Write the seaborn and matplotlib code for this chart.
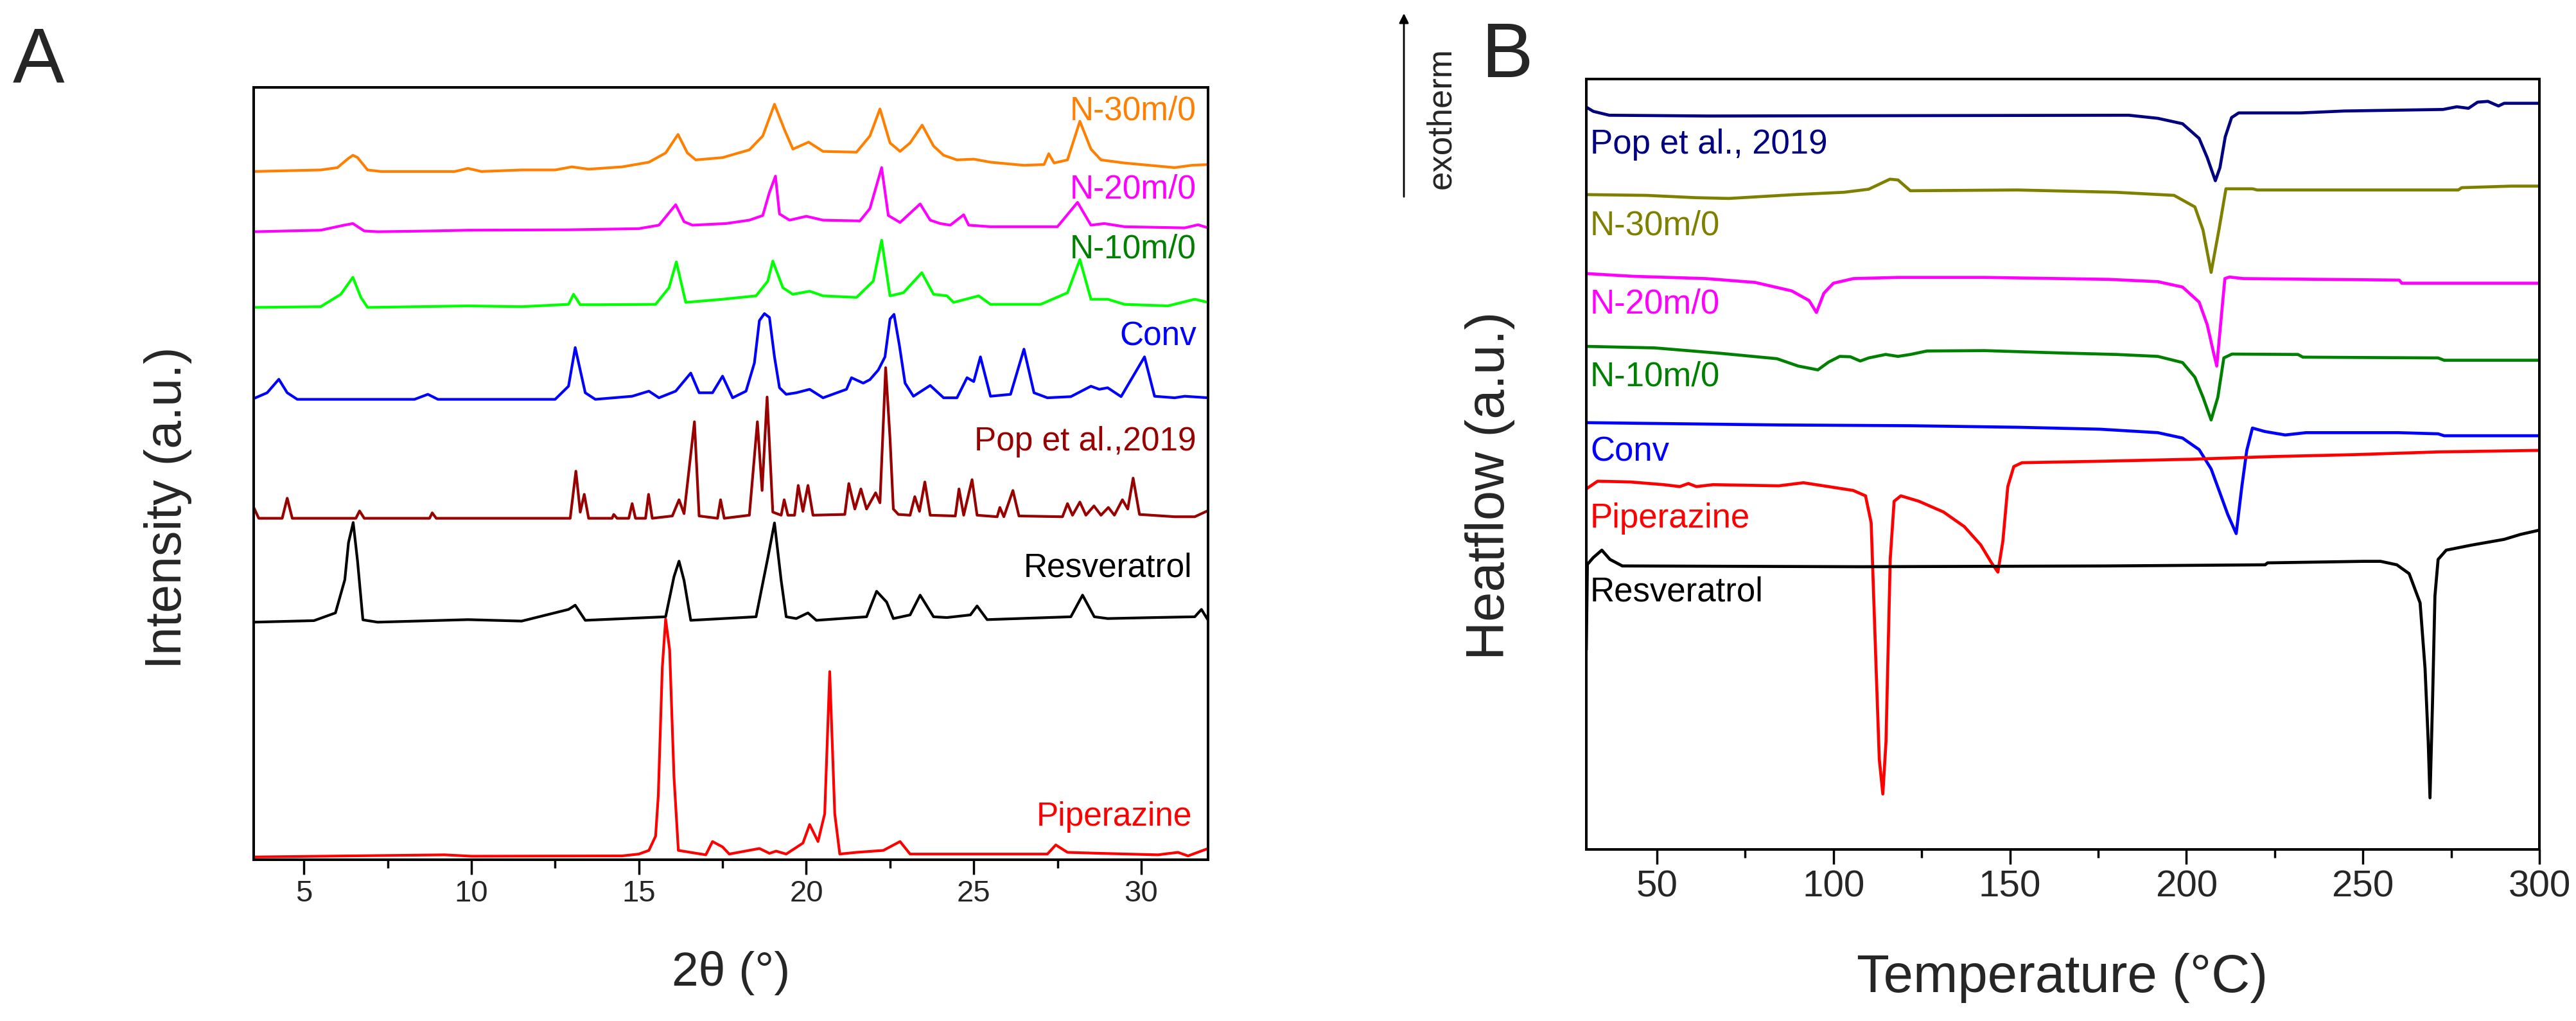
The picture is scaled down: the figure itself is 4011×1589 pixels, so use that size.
import matplotlib
matplotlib.use("Agg")
import matplotlib.pyplot as plt
from matplotlib.ticker import MultipleLocator
import pandas as pd
import seaborn as sns

# ---- panel A: XRD patterns, 2theta (deg) and height above each pattern's own baseline (a.u.)
N30_X = [3.5, 5.5, 6.0, 6.3, 6.46, 6.6, 6.9, 7.3, 9.5, 9.9, 10.3, 11.5, 12.5, 13.0, 13.5, 14.5, 15.3, 15.8,
         16.17, 16.45, 16.7, 17.5, 18.3, 18.7, 19.05, 19.35, 19.6, 20.07, 20.5, 21.5, 21.9, 22.2, 22.5, 22.8,
         23.1, 23.46, 23.8, 24.1, 24.5, 25.0, 25.5, 26.5, 27.1, 27.24, 27.4, 27.8, 28.17, 28.5, 28.8, 29.5,
         30.5, 31.0, 31.5, 32.0]
N30_H = [0, 0.2, 0.5, 1.6, 2.1, 1.8, 0.2, 0, 0, 0.4, 0, 0.2, 0.2, 0.6, 0.3, 0.6, 1.2, 2.4,
         4.8, 2.4, 1.5, 1.8, 2.8, 4.6, 8.7, 5.4, 2.9, 3.8, 2.6, 2.5, 4.6, 8.1, 3.7, 2.6,
         3.7, 6.0, 3.3, 2.1, 1.5, 1.6, 1.2, 0.8, 0.9, 2.3, 1.1, 1.5, 6.5, 2.9, 1.5, 1.1,
         0.7, 0.5, 0.8, 0.9]

N20_X = [3.5, 5.5, 6.2, 6.46, 6.8, 7.2, 8.8, 9.9, 12.9, 15.0, 15.6, 16.1, 16.35, 16.6, 17.6, 18.3, 18.7,
         18.9, 19.08, 19.2, 19.5, 20.0, 20.5, 21.6, 21.9, 22.25, 22.45, 22.8, 23.4, 23.7, 24.0, 24.3, 24.7,
         24.85, 25.5, 27.5, 28.1, 28.5, 28.9, 29.5, 31.3, 31.7, 32.0]
N20_H = [0, 0.2, 0.85, 1.06, 0.1, 0, 0.1, 0.2, 0.25, 0.4, 0.85, 3.5, 1.3, 0.85, 1.06, 1.5, 2.1,
         5.1, 7.2, 2.3, 1.5, 2.0, 1.5, 1.4, 3.0, 8.3, 2.1, 1.2, 3.6, 1.5, 1.06, 0.85, 2.2,
         0.85, 0.65, 0.65, 3.8, 0.85, 1.06, 0.65, 0.5, 0.9, 0.5]

N10_X = [3.5, 5.5, 6.1, 6.46, 6.7, 6.9, 9.9, 11.5, 12.9, 13.05, 13.25, 13.8, 15.5, 15.9, 16.12, 16.4, 17.5,
         18.5, 18.85, 19.0, 19.3, 19.6, 20.1, 20.5, 21.5, 22.0, 22.25, 22.5, 22.9, 23.45, 23.8, 24.2, 24.4,
         25.15, 25.5, 27.0, 27.8, 28.17, 28.5, 29.0, 29.5, 30.8, 31.6, 32.0]
N10_H = [0, 0.1, 1.7, 3.9, 1.3, 0, 0.2, 0.1, 0.4, 1.7, 0.35, 0.35, 0.4, 2.55, 5.9, 0.65, 1.06,
         1.5, 3.4, 6.0, 2.55, 1.7, 2.1, 1.5, 1.3, 3.4, 8.7, 1.5, 1.9, 4.5, 1.7, 1.5, 0.65,
         1.5, 0.4, 0.4, 1.9, 6.2, 1.06, 1.06, 0.4, 0.2, 1.06, 0.65]

CONV_X = [3.5, 3.9, 4.25, 4.5, 4.8, 8.3, 8.7, 9.0, 12.5, 12.9, 13.1, 13.4, 13.7, 14.8, 15.3, 15.6, 16.1,
          16.55, 16.8, 17.2, 17.5, 17.8, 18.2, 18.45, 18.6, 18.75, 18.9, 19.05, 19.2, 19.4, 19.7, 20.1,
          20.5, 21.2, 21.35, 21.7, 21.9, 22.15, 22.35, 22.5, 22.62, 22.78, 22.95, 23.2, 23.7, 24.1, 24.5,
          24.8, 25.0, 25.2, 25.5, 26.1, 26.5, 26.8, 27.2, 27.9, 28.5, 28.75, 29.0, 29.4, 30.1, 30.4,
          31.0, 31.3, 32.0]
CONV_H = [0.1, 0.85, 2.6, 0.85, 0, 0, 0.65, 0, 0, 1.7, 6.7, 0.85, 0, 0.4, 1.06, 0.2, 1.06,
          3.4, 0.85, 0.85, 3.0, 0.2, 1.06, 4.7, 10.2, 11.1, 10.6, 5.5, 1.5, 0.65, 0.85, 1.3,
          0.2, 1.3, 2.8, 2.1, 2.55, 3.8, 5.5, 10.4, 11.0, 7.0, 2.1, 0.4, 1.8, 0.2, 0.2,
          2.8, 2.3, 5.5, 0.4, 0.65, 6.5, 0.85, 0.2, 0.35, 1.7, 1.3, 1.5, 0.35, 5.5, 0.4,
          0.2, 0.4, 0.2]

POP_X = [3.5, 3.65, 4.35, 4.5, 4.65, 6.55, 6.66, 6.8, 8.75, 8.83, 8.95, 12.95, 13.12, 13.25, 13.37, 13.5,
         14.2, 14.25, 14.35, 14.7, 14.8, 14.9, 15.2, 15.29, 15.4, 16.0, 16.2, 16.35, 16.66, 16.8, 17.35,
         17.44, 17.55, 18.3, 18.54, 18.68, 18.83, 19.0, 19.25, 19.34, 19.45, 19.65, 19.76, 19.9, 20.05,
         20.2, 21.15, 21.27, 21.45, 21.63, 21.8, 22.07, 22.2, 22.37, 22.5, 22.6, 22.75, 23.1, 23.24,
         23.38, 23.54, 23.7, 24.45, 24.56, 24.7, 24.95, 25.1, 25.7, 25.78, 25.9, 26.17, 26.35, 27.65,
         27.8, 27.95, 28.17, 28.35, 28.59, 28.8, 29.02, 29.2, 29.44, 29.6, 29.76, 29.95, 31.0, 31.6, 32.0]
POP_H = [1.4, 0, 0, 2.6, 0, 0, 0.95, 0, 0, 0.7, 0, 0, 6.1, 0.8, 3.1, 0,
         0, 0.5, 0, 0, 1.9, 0, 0, 3.1, 0, 0.3, 2.4, 0.6, 12.5, 0.3, 0,
         2.4, 0, 0.4, 12.5, 3.6, 15.7, 0.8, 0.4, 2.4, 0.4, 0.4, 4.25, 0.9, 4.25,
         0.4, 0.5, 4.5, 1.2, 3.8, 1.2, 3.3, 2.0, 19.5, 10.4, 1.2, 0.5, 0.4, 2.8,
         0.9, 4.7, 0.4, 0.3, 3.8, 0.4, 5.0, 0.4, 0.2, 1.4, 0.2, 3.6, 0.3, 0.2,
         1.9, 0.4, 2.1, 0.4, 1.6, 0.4, 1.4, 0.4, 2.4, 1.2, 5.2, 0.5, 0.2, 0.2, 1.0]

RES_X = [3.5, 5.3, 5.94, 6.22, 6.33, 6.47, 6.6, 6.76, 7.2, 9.9, 11.5, 12.9, 13.1, 13.4, 15.8, 16.05, 16.2,
         16.35, 16.55, 18.5, 18.85, 19.05, 19.25, 19.4, 19.7, 20.05, 20.3, 21.8, 22.1, 22.4, 22.6, 23.1,
         23.4, 23.8, 24.2, 24.9, 25.1, 25.4, 27.9, 28.25, 28.6, 29.0, 30.4, 31.6, 31.8, 32.0]
RES_H = [0, 0.2, 1.2, 5.5, 10.3, 12.9, 7.9, 0.3, 0, 0.33, 0.14, 1.65, 2.2, 0.24, 0.7, 5.9, 7.9,
         5.4, 0.24, 0.7, 8.3, 12.85, 5.4, 0.7, 0.47, 1.2, 0.24, 0.7, 4.0, 2.6, 0.47, 0.94,
         3.5, 0.7, 0.6, 0.94, 2.1, 0.33, 0.7, 3.5, 0.7, 0.47, 0.6, 0.7, 1.65, 0.24]

PIP_X = [3.5, 9.2, 10.0, 14.5, 15.0, 15.3, 15.5, 15.58, 15.7, 15.8, 15.92, 16.05, 16.18, 17.0, 17.2, 17.5,
         17.7, 18.6, 18.9, 19.1, 19.4, 19.9, 20.1, 20.35, 20.55, 20.7, 20.85, 21.0, 21.5, 22.3, 22.8, 23.1,
         27.2, 27.45, 27.8, 28.8, 30.5, 31.1, 31.4, 32.0]
PIP_H = [0, 0.28, 0.1, 0.14, 0.38, 0.85, 2.7, 7.9, 24.5, 30.8, 26.8, 10.3, 0.85, 0.28, 2.0, 1.3,
         0.38, 1.1, 0.47, 0.76, 0.38, 1.8, 4.2, 2.0, 5.6, 24.0, 5.6, 0.38, 0.6, 0.85, 2.0, 0.38,
         0.38, 1.56, 0.6, 0.47, 0.28, 0.6, 0.14, 1.1]

XRD_NAMES = ["N-30m/0", "N-20m/0", "N-10m/0", "Conv", "Pop et al.,2019", "Resveratrol", "Piperazine"]
XRD_X = [N30_X, N20_X, N10_X, CONV_X, POP_X, RES_X, PIP_X]
XRD_H = [N30_H, N20_H, N10_H, CONV_H, POP_H, RES_H, PIP_H]
XRD_BASE = [89.1, 81.3, 71.5, 59.6, 44.2, 30.75, 0.35]

# ---- panel B: DSC traces, temperature (deg C) and heat flow (a.u., offset as plotted)
POP_T = [30, 32, 36.5, 64.6, 183.7, 191.9, 198.9, 203.6, 205.9, 208.2, 209.5, 211.0, 212.8, 214.8, 232.3,
         244.8, 272.7, 276.6, 279.9, 282.5, 285.4, 288.4, 290, 300]
POP_Q = [96.35, 95.8, 95.3, 95.2, 95.3, 94.9, 94.2, 92.3, 89.8, 86.8, 88.5, 92.5, 95.0, 95.6, 95.6,
         95.85, 96.05, 96.4, 96.2, 97.0, 97.1, 96.5, 96.85, 96.85]

N30_T = [30, 47, 61, 70.4, 89, 103, 110, 116, 118.3, 121.8, 152, 180, 196.5, 202.4, 204.7, 207, 209.2,
         211.2, 218.8, 220, 277, 278, 292, 300]
N30_Q = [85.0, 84.9, 84.6, 84.5, 85.0, 85.3, 85.7, 87.0, 86.9, 85.5, 85.6, 85.3, 84.9, 83.4, 80.4, 74.9, 80.4,
         85.75, 85.75, 85.6, 85.6, 85.9, 86.1, 86.1]

N20_T = [30, 43, 63.8, 77.8, 88.2, 93.1, 95.2, 97.3, 100, 105.7, 118.3, 143, 177.9, 191.9, 198.9, 203.6,
         205.9, 207.8, 208.6, 209.6, 210.9, 212.2, 216.1, 260.3, 261, 300]
N20_Q = [74.75, 74.4, 74.1, 73.6, 72.5, 71.25, 69.7, 72.2, 73.5, 74.1, 74.25, 74.25, 74.0, 73.7, 73.0, 71.05,
         68.1, 64.25, 62.75, 67.75, 74.1, 74.3, 74.1, 73.9, 73.5, 73.5]

N10_T = [30, 49.4, 68, 84, 90, 95.6, 98.6, 101.8, 104.8, 107.6, 110, 114.8, 118.3, 121.8, 126.5, 142.8,
         163.8, 180.2, 191.9, 198.9, 202.4, 204.7, 207, 208.9, 210.6, 212.9, 231.6, 233, 271.3, 273, 300]
N10_Q = [65.3, 65.1, 64.4, 63.7, 62.75, 62.25, 63.25, 64.0, 63.95, 63.4, 63.8, 64.25, 64.0, 64.25, 64.7, 64.75,
         64.45, 64.25, 64.0, 63.2, 61.3, 58.7, 55.75, 58.7, 63.8, 64.3, 64.25, 63.9, 63.8, 63.5, 63.5]

CONV_T = [30, 84.4, 121.8, 152.2, 175.5, 191.9, 198.9, 203.6, 207, 209.4, 211.7, 214.1, 215.7, 217.1,
          218.7, 222.2, 228, 233.9, 260, 271.3, 273, 300]
CONV_Q = [55.4, 55.1, 55.0, 54.8, 54.55, 54.1, 53.4, 51.9, 49.4, 46.4, 43.5, 41.0, 47.1, 51.8,
          54.7, 54.25, 53.8, 54.1, 54.1, 53.95, 53.7, 53.7]

PIP_T = [30, 33.2, 42.5, 51.9, 56.5, 58.9, 61.2, 65.9, 84.5, 91.5, 98.6, 105.6, 109.1, 110.7, 112.1, 113,
         114, 114.9, 116.1, 117.2, 119.1, 124.2, 131.2, 137.1, 141.7, 144.8, 146.6, 148, 149.4, 151.1,
         153.4, 176.7, 201.3, 224.6, 247.9, 271.3, 300]
PIP_Q = [46.8, 47.8, 47.7, 47.35, 47.1, 47.5, 47.1, 47.35, 47.2, 47.6, 47.1, 46.6, 45.9, 42.4, 23.5, 11.7,
         7.2, 14.0, 37.7, 45.2, 45.9, 45.2, 43.8, 41.9, 39.55, 37.2, 36.0, 40.0, 47.1, 49.7,
         50.2, 50.4, 50.65, 51.0, 51.25, 51.6, 51.8]

RES_T = [30, 30.3, 32, 34.4, 36.7, 40.2, 107.9, 177.9, 222.3, 223, 250.3, 255, 259.6, 263.1, 266.2,
         267.6, 268.5, 269.0, 269.7, 270.4, 271.3, 273.6, 280.7, 290, 294.7, 300]
RES_Q = [25.9, 37.0, 37.9, 38.85, 37.65, 36.8, 36.7, 36.8, 36.95, 37.2, 37.4, 37.4, 36.95, 35.8, 32.0,
         23.5, 14.0, 6.7, 18.8, 32.9, 37.65, 38.85, 39.5, 40.25, 40.9, 41.45]

DSC_NAMES = ["Pop et al., 2019", "N-30m/0", "N-20m/0", "N-10m/0", "Conv", "Piperazine", "Resveratrol"]
DSC_T = [POP_T, N30_T, N20_T, N10_T, CONV_T, PIP_T, RES_T]
DSC_Q = [POP_Q, N30_Q, N20_Q, N10_Q, CONV_Q, PIP_Q, RES_Q]

# ---- colours and label placement
XRD_LINE_COLORS = ["#ff8000", "#ff00ff", "#00ff00", "#0000ff", "#990000", "#000000", "#ff0000"]
XRD_TEXT_COLORS = ["#ff8000", "#ff00ff", "#008000", "#0000ff", "#990000", "#000000", "#ff0000"]
XRD_LABEL_Y = [95.8, 85.6, 77.9, 66.6, 53.0, 36.6, 4.4]
XRD_LABEL_X = [31.65, 31.65, 31.65, 31.65, 31.65, 31.52, 31.52]

DSC_COLORS = ["#000080", "#808000", "#ff00ff", "#008000", "#0000ff", "#ff0000", "#000000"]
DSC_LABEL_Y = [90.3, 79.8, 69.6, 60.2, 50.4, 41.8, 32.2]

sns.set_style("white")
plt.rcParams["font.family"] = ["Liberation Sans", "DejaVu Sans"]


def build_xrd():
    parts = []
    for name, xs, hs, base in zip(XRD_NAMES, XRD_X, XRD_H, XRD_BASE):
        part = pd.DataFrame({"two_theta": xs, "height": hs})
        part["intensity"] = part["height"] + base
        part["sample"] = name
        parts.append(part)
    return pd.concat(parts, ignore_index=True)


def build_dsc():
    parts = []
    for name, ts, qs in zip(DSC_NAMES, DSC_T, DSC_Q):
        part = pd.DataFrame({"temperature": ts, "heatflow": qs})
        part["sample"] = name
        parts.append(part)
    return pd.concat(parts, ignore_index=True)


def style_axis(ax, major, minor, labelsize):
    for side in ["left", "right", "top", "bottom"]:
        ax.spines[side].set_visible(True)
        ax.spines[side].set_linewidth(2.9)
        ax.spines[side].set_color("black")
    ax.xaxis.set_major_locator(MultipleLocator(major))
    ax.xaxis.set_minor_locator(MultipleLocator(minor))
    ax.tick_params(axis="x", which="major", bottom=True, direction="out", length=16.5, width=2.5,
                   labelsize=labelsize, pad=6, color="black")
    ax.tick_params(axis="x", which="minor", bottom=True, direction="out", length=9, width=2.5, color="black")
    ax.tick_params(axis="y", which="both", left=False, labelleft=False)
    ax.set_yticks([])


fig = plt.figure(figsize=(40.11, 15.89), dpi=100)
ax_a = fig.add_axes([0.0985, 0.1580, 0.3705, 0.7565])
ax_b = fig.add_axes([0.6158, 0.1680, 0.3700, 0.7546])

xrd = build_xrd()
sns.lineplot(data=xrd, x="two_theta", y="intensity", hue="sample", hue_order=XRD_NAMES,
             palette=dict(zip(XRD_NAMES, XRD_LINE_COLORS)), estimator=None, sort=False,
             linewidth=3, legend=False, ax=ax_a)
ax_a.set_xlim(3.5, 32)
ax_a.set_ylim(0, 100)
style_axis(ax_a, 5, 2.5, 34)
for name, color, lx, ly in zip(XRD_NAMES, XRD_TEXT_COLORS, XRD_LABEL_X, XRD_LABEL_Y):
    ax_a.text(lx, ly, name, color=color, fontsize=37, ha="right", va="baseline")
ax_a.set_xlabel("2\u03b8 (\u00b0)", fontsize=54)
ax_a.xaxis.set_label_coords(0.5, -0.147)
ax_a.xaxis.label.set_va("center")
ax_a.set_ylabel("Intensity (a.u.)", fontsize=57)
ax_a.yaxis.set_label_coords(-0.0902, 0.456)
ax_a.yaxis.label.set_va("center")

dsc = build_dsc()
sns.lineplot(data=dsc, x="temperature", y="heatflow", hue="sample", hue_order=DSC_NAMES,
             palette=dict(zip(DSC_NAMES, DSC_COLORS)), estimator=None, sort=False,
             linewidth=3.4, legend=False, ax=ax_b)
ax_b.set_xlim(30, 300)
ax_b.set_ylim(0, 100)
style_axis(ax_b, 50, 25, 42)
for name, color, ly in zip(DSC_NAMES, DSC_COLORS, DSC_LABEL_Y):
    ax_b.text(31.1, ly, name, color=color, fontsize=38, ha="left", va="baseline")
ax_b.set_xlabel("Temperature (\u00b0C)", fontsize=60)
ax_b.xaxis.set_label_coords(0.4993, -0.1668)
ax_b.xaxis.label.set_va("center")
ax_b.set_ylabel("Heatflow (a.u.)", fontsize=60)
ax_b.yaxis.set_label_coords(-0.101, 0.472)
ax_b.yaxis.label.set_va("center")

# panel letters and the exotherm direction marker
fig.text(60 / 4011, 1 - 128 / 1589, "A", fontsize=87, ha="center", va="baseline")
fig.text(2346 / 4011, 1 - 120 / 1589, "B", fontsize=87, ha="center", va="baseline")
ax_b.annotate("", xy=(2186, 1589 - 18), xytext=(2186, 1589 - 309), xycoords="figure pixels",
              textcoords="figure pixels", annotation_clip=False,
              arrowprops=dict(arrowstyle="-|>", lw=2, color="black", mutation_scale=22))
fig.text(2244 / 4011, 1 - 184 / 1589, "exotherm", fontsize=38, rotation=90, ha="center", va="center")

fig.savefig("out.png", dpi=100)
